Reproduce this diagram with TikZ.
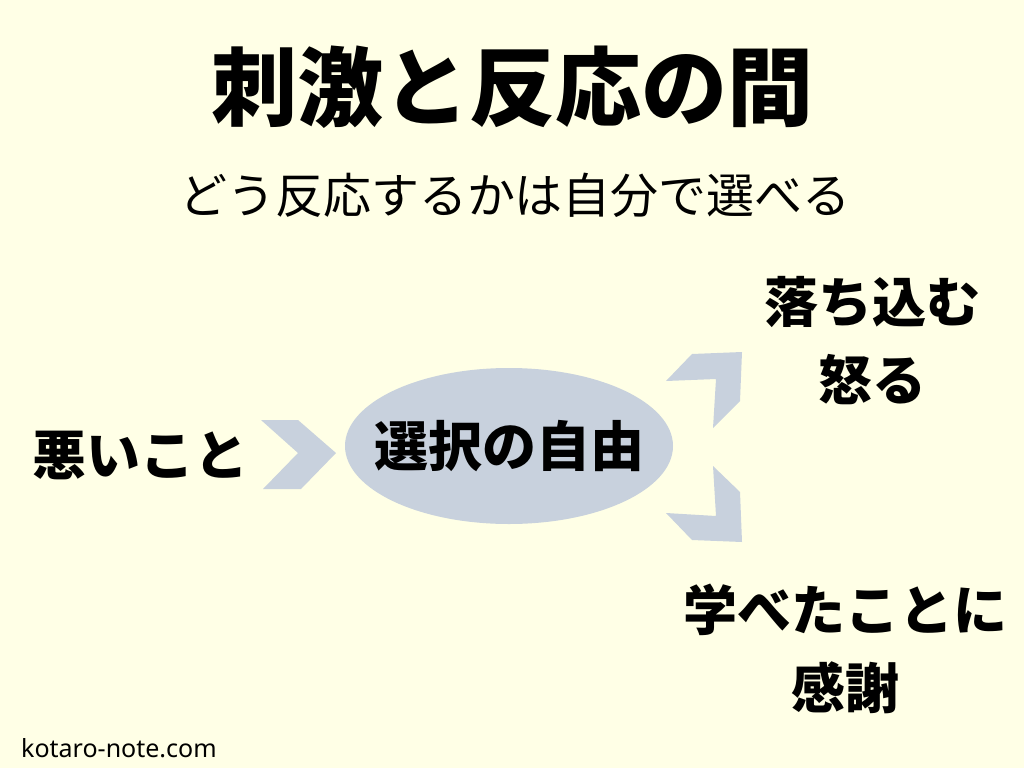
\documentclass[tikz,border=0pt]{standalone}
\usepackage{fontspec}
\newfontfamily\jp{Noto Sans CJK JP}
\newfontfamily\web{Noto Sans}
\usepackage{tikz}
\usetikzlibrary{positioning, shapes.geometric}
\definecolor{bg}{RGB}{255,255,230}
\definecolor{gray}{RGB}{200,209,221}

\begin{document}
\begin{tikzpicture}[x=1pt, y=-1pt,
    big/.style={font=\jp\bfseries\fontsize{54}{78}\selectfont, align=center, inner sep=0pt},
    chev/.style={fill=gray, draw=none}]
    \useasboundingbox[fill=bg] (0,0) rectangle (1024,768);

    \node[font=\jp\bfseries\fontsize{86}{90}\selectfont, inner sep=0pt] (title) at (512,87) {刺激と反応の間};
    \node[font=\jp\fontsize{48}{50}\selectfont, inner sep=0pt] (sub) at (515,195) {どう反応するかは自分で選べる};

    \node[big] (bad) at (140,455) {悪いこと};
    \node[ellipse, fill=gray, minimum width=328pt, minimum height=156pt] (free) at (509,446) {};
    \node[big] at (free) {選択の自由};
    \node[big] (down) at (872,341) {落ち込む\\怒る};
    \node[big] (learn) at (845,649) {学べたことに\\感謝};

    \fill[chev] (261,420) -- (298,420) -- (336,453) -- (301,489) -- (263,489) -- (298,453) -- cycle;
    \fill[chev] (666,381) -- (692,354) -- (742,352) -- (740,401) -- (713,428) -- (716,379) -- cycle;
    \fill[chev] (666,513) -- (692,540) -- (742,542) -- (740,492) -- (713,466) -- (716,516) -- cycle;

    \node[font=\web\fontsize{25}{27}\selectfont, anchor=west, inner sep=0pt] (site) at (21,748) {kotaro-note.com};
\end{tikzpicture}
\end{document}
